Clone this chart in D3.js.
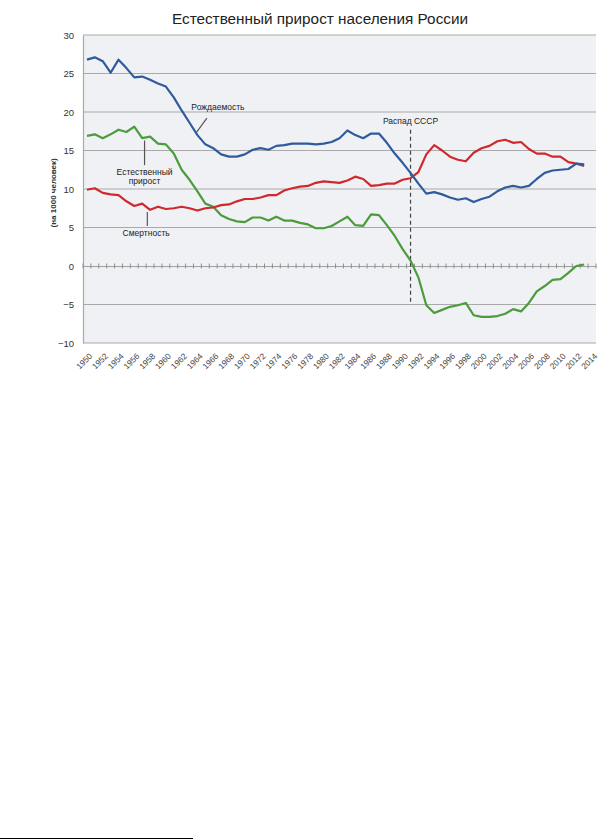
<!DOCTYPE html>
<html>
<head>
<meta charset="utf-8">
<script src="https://cdn.jsdelivr.net/npm/d3@7"></script>
<style>
  body { margin: 0; background: #fff; }
  svg { display: block; font-family: "Liberation Sans", Arial, sans-serif; }
</style>
</head>
<body>
<svg id="chart" width="609" height="840"></svg>
<script>
var years = d3.range(1950, 2015);
var dataYears = d3.range(1950, 2014);
var yTicks = [-10, -5, 0, 5, 10, 15, 20, 25, 30];
var xLabels = d3.range(1950, 2015, 2);

// рождаемость, на 1000 человек
var births = [26.8, 27.1, 26.6, 25.1, 26.8, 25.7, 24.5, 24.6, 24.2, 23.7,
  23.3, 21.9, 20.2, 18.6, 17.0, 15.8, 15.3, 14.5, 14.2, 14.2,
  14.5, 15.1, 15.3, 15.1, 15.6, 15.7, 15.9, 15.9, 15.9, 15.8,
  15.9, 16.1, 16.6, 17.6, 17.0, 16.6, 17.2, 17.2, 16.0, 14.6,
  13.4, 12.1, 10.7, 9.4, 9.6, 9.3, 8.9, 8.6, 8.8, 8.3,
  8.7, 9.0, 9.7, 10.2, 10.4, 10.2, 10.4, 11.3, 12.1, 12.4,
  12.5, 12.6, 13.3, 13.2];

// смертность
var deaths = [9.9, 10.1, 9.5, 9.3, 9.2, 8.4, 7.8, 8.1, 7.3, 7.7,
  7.4, 7.5, 7.7, 7.5, 7.2, 7.5, 7.6, 7.9, 8.0, 8.4,
  8.7, 8.7, 8.9, 9.2, 9.2, 9.8, 10.1, 10.3, 10.4, 10.8,
  11.0, 10.9, 10.8, 11.1, 11.6, 11.3, 10.4, 10.5, 10.7, 10.7,
  11.2, 11.4, 12.2, 14.5, 15.7, 15.0, 14.2, 13.8, 13.6, 14.7,
  15.3, 15.6, 16.2, 16.4, 16.0, 16.1, 15.2, 14.6, 14.6, 14.2,
  14.2, 13.5, 13.3, 13.0];

// естественный прирост
var growth = [16.9, 17.1, 16.6, 17.1, 17.7, 17.4, 18.1, 16.6, 16.8, 15.9,
  15.8, 14.6, 12.5, 11.2, 9.7, 8.1, 7.7, 6.6, 6.1, 5.8,
  5.7, 6.3, 6.3, 5.9, 6.4, 5.9, 5.9, 5.6, 5.4, 4.9,
  4.9, 5.2, 5.8, 6.4, 5.3, 5.2, 6.7, 6.6, 5.3, 3.9,
  2.2, 0.7, -1.5, -5.1, -6.1, -5.7, -5.3, -5.1, -4.8, -6.4,
  -6.6, -6.6, -6.5, -6.2, -5.6, -5.9, -4.8, -3.3, -2.6, -1.8,
  -1.7, -0.9, 0.0, 0.2];

var collapseYear = 1991;
var collapseSpan = [17.7, -5];

// подписи: [текст, год, значение]
var labels = [
  ["Рождаемость", 1966.6, 20.7],
  ["Естественный", 1957.3, 12.2],
  ["прирост", 1957.3, 11.0],
  ["Смертность", 1957.5, 4.3],
  ["Распад СССР", 1991, 18.8]
];
// выноски: [год1, знач1, год2, знач2]
var leaders = [
  [1965.2, 19.2, 1963.9, 17.4],
  [1957.3, 16.3, 1957.3, 13.1],
  [1957.65, 7.0, 1957.65, 5.2]
];

var svg = d3.select("#chart");
var plotLeft = 83, plotRight = 596, plotTop = 35, plotBottom = 343;

var x = d3.scalePoint().domain(years).range([plotLeft, plotRight]).padding(0.5);
var step = x.step();
var xf = function(yr) { return x(1950) + (yr - 1950) * step; };
var y = d3.scaleLinear().domain([-10, 30]).range([plotBottom, plotTop]);

svg.append("text")
  .attr("x", 320).attr("y", 24)
  .attr("text-anchor", "middle")
  .attr("font-size", 15.3)
  .attr("fill", "#222")
  .text("Естественный прирост населения России");

svg.append("rect")
  .attr("x", plotLeft).attr("y", plotTop)
  .attr("width", plotRight - plotLeft).attr("height", plotBottom - plotTop)
  .attr("fill", "#eff1f5");

// сетка
svg.append("g").selectAll("line")
  .data(yTicks.filter(function(d) { return d !== 0; }))
  .join("line")
  .attr("x1", plotLeft).attr("x2", plotRight)
  .attr("y1", function(d) { return y(d); })
  .attr("y2", function(d) { return y(d); })
  .attr("stroke", "#a9a9a9")
  .attr("stroke-width", 1.2);

var yAxis = svg.append("g")
  .attr("transform", "translate(" + plotLeft + ",0)")
  .call(d3.axisLeft(y).tickValues(yTicks).tickSize(0).tickPadding(9));
yAxis.select(".domain").attr("stroke", "#a9a9a9").attr("stroke-width", 1.2);
yAxis.selectAll("text").attr("font-size", 9.5).attr("fill", "#333")
  .attr("font-family", "Liberation Sans, Arial, sans-serif");

svg.append("text")
  .attr("transform", "translate(53," + y(9.5) + ") rotate(-90)")
  .attr("text-anchor", "middle")
  .attr("dy", "0.35em")
  .attr("font-size", 8)
  .attr("font-weight", "bold")
  .attr("fill", "#333")
  .text("(на 1000 человек)");

// ось x по нулю с засечками
var zero = svg.append("g")
  .attr("transform", "translate(0," + y(0) + ")")
  .call(d3.axisBottom(x).tickValues(years).tickSize(0).tickFormat(""));
zero.select(".domain").attr("stroke", "#a0a0a0").attr("stroke-width", 1.2);
zero.append("g").selectAll("line")
  .data(d3.range(1950, 2016))
  .join("line")
  .attr("x1", function(d) { return xf(d) - step / 2; })
  .attr("x2", function(d) { return xf(d) - step / 2; })
  .attr("y1", -2.5).attr("y2", 2.5)
  .attr("stroke", "#909090");

// подписи лет
svg.append("g").selectAll("text")
  .data(xLabels)
  .join("text")
  .attr("transform", function(d) { return "translate(" + (x(d) + 4) + "," + (plotBottom + 12) + ") rotate(-45)"; })
  .attr("text-anchor", "end")
  .attr("dy", "0.3em")
  .attr("font-size", 8.3)
  .attr("fill", "#444")
  .text(function(d) { return d; });

// Распад СССР
svg.append("line")
  .attr("x1", x(collapseYear)).attr("x2", x(collapseYear))
  .attr("y1", y(collapseSpan[0])).attr("y2", y(collapseSpan[1]))
  .attr("stroke", "#444")
  .attr("stroke-width", 1.2)
  .attr("stroke-dasharray", "4,3");

var line = d3.line()
  .x(function(d, i) { return x(dataYears[i]); })
  .y(function(d) { return y(d); });

var series = [
  [growth, "#4c9b3c"],
  [deaths, "#d0282c"],
  [births, "#2f5b9c"]
];
svg.append("g").selectAll("path")
  .data(series)
  .join("path")
  .attr("d", function(d) { return line(d[0]); })
  .attr("fill", "none")
  .attr("stroke", function(d) { return d[1]; })
  .attr("stroke-width", 2.2)
  .attr("stroke-linejoin", "round");

svg.append("g").selectAll("line")
  .data(leaders)
  .join("line")
  .attr("x1", function(d) { return xf(d[0]); })
  .attr("y1", function(d) { return y(d[1]); })
  .attr("x2", function(d) { return xf(d[2]); })
  .attr("y2", function(d) { return y(d[3]); })
  .attr("stroke", "#555")
  .attr("stroke-width", 1.2);

svg.append("g").selectAll("text")
  .data(labels)
  .join("text")
  .attr("x", function(d) { return xf(d[1]); })
  .attr("y", function(d) { return y(d[2]); })
  .attr("dy", "0.35em")
  .attr("text-anchor", "middle")
  .attr("font-size", 8.5)
  .attr("fill", "#222")
  .text(function(d) { return d[0]; });

// линия сноски
svg.append("line")
  .attr("x1", 0).attr("x2", 193)
  .attr("y1", 838.5).attr("y2", 838.5)
  .attr("stroke", "#000")
  .attr("stroke-width", 1.2);
</script>
</body>
</html>
